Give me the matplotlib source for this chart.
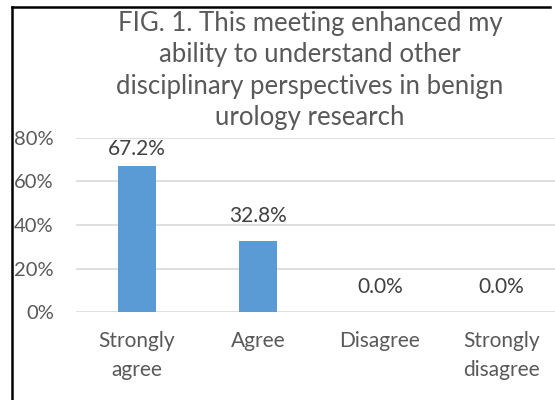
import matplotlib
matplotlib.use('Agg')
from matplotlib import pyplot as plt
from matplotlib.ticker import PercentFormatter

categories = ['Strongly\nagree', 'Agree', 'Disagree', 'Strongly\ndisagree']
values = [67.2, 32.8, 0.0, 0.0]
y_ticks = [0, 20, 40, 60, 80]
title = ('FIG. 1. This meeting enhanced my\nability to understand other\n'
         'disciplinary perspectives in benign\nurology research')

plt.rcParams['font.family'] = ['Lato', 'DejaVu Sans']

W, H = 555, 400
fig = plt.figure(figsize=(W / 100, H / 100), dpi=100)

# plot area in pixel terms (Excel-ish layout)
left, right, top, bottom = 76, 562, 138, 312
ax = fig.add_axes([left / W, 1 - bottom / H, (right - left) / W, (bottom - top) / H])

bars = ax.bar(range(len(values)), values, width=0.31, color='#5b9bd5', zorder=3)
ax.set_xlim(-0.5, len(values) - 0.5)
ax.set_ylim(0, 80)
ax.set_yticks(y_ticks)
ax.yaxis.set_major_formatter(PercentFormatter(decimals=0))
ax.grid(axis='y', color='#d9d9d9', linewidth=1.2, zorder=0)
for s in ax.spines.values():
    s.set_visible(False)
ax.tick_params(length=0)
ax.tick_params(axis='y', labelsize=14.5, labelcolor='#595959', pad=16)
ax.set_xticks(range(len(values)))
ax.set_xticklabels(categories, fontsize=15, color='#595959', linespacing=1.55)
ax.tick_params(axis='x', pad=14)

# labels sit above the bars, kept inside the plot area like Excel does
for b, v in zip(bars, values):
    ax.text(b.get_x() + b.get_width() / 2, min(v + 11.5, 75), f'{v:.1f}%', ha='center',
            va='center', fontsize=15, color='#404040')

fig.text(310 / W, 1 - 11 / H, title, ha='center', va='top', fontsize=18.5,
         color='#595959', linespacing=1.32)

# chart border (left and top edges visible)
fig.add_artist(plt.Line2D([12 / W, 12 / W], [0, 1 - 7 / H], transform=fig.transFigure,
                          color='black', linewidth=1.8))
fig.add_artist(plt.Line2D([12 / W, 550 / W], [1 - 7 / H, 1 - 7 / H], transform=fig.transFigure,
                          color='black', linewidth=1.8))

fig.savefig('out.png', dpi=100)
